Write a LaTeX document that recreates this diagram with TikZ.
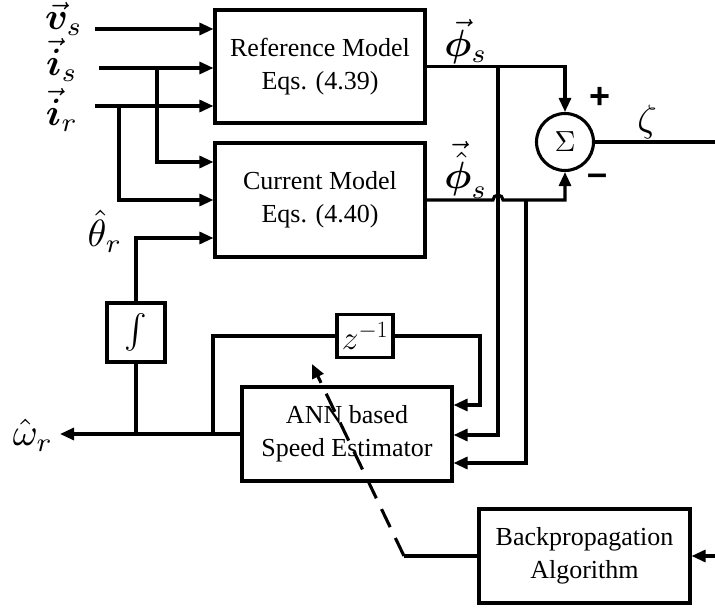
\documentclass[tikz,border=0pt]{standalone}
\usepackage{bm}
\usepackage{fontspec}
\setmainfont{Liberation Serif}
\newfontfamily\signfont{Liberation Sans}
\usetikzlibrary{arrows.meta}
\newcommand{\mysym}[2]{\scalebox{#1}{$#2$}}
\begin{document}
\begin{tikzpicture}[x=1pt,y=-1pt,line width=3.1pt,
  tip/.style={-{Triangle[length=14pt,width=12pt]}},
  blk/.style={draw,line width=3.1pt,inner sep=0pt,align=center,font=\fontsize{26}{33}\selectfont},
  lbl/.style={inner sep=0pt},
  sgn/.style={font=\signfont\bfseries\fontsize{36}{40}\selectfont,inner sep=0pt}]
\useasboundingbox (0,0) rectangle (715,609);
% blocks
\node[blk,minimum width=210pt,minimum height=113pt] (ref) at (320,66.5) {Reference Model\\Eqs. (4.39)};
\node[blk,minimum width=210pt,minimum height=114pt] (cur) at (320,200) {Current Model\\Eqs. (4.40)};
\node[blk,minimum width=210pt,minimum height=94pt] (ann) at (347,434) {ANN based\\Speed Estimator};
\node[blk,minimum width=211pt,minimum height=94pt] (bp) at (584.5,556) {Backpropagation\\Algorithm};
\node[blk,minimum width=56pt,minimum height=43pt] (z) at (365,336) {\mysym{1.35}{z^{-1}}};
\node[draw,line width=3.1pt,inner sep=0pt,minimum width=58pt,minimum height=59pt] (int) at (136,332.5) {\mysym{3.4}{\int}};
\node[draw,circle,minimum size=57pt,inner sep=0pt] (sum) at (565,142) {\mysym{2.9}{\Sigma}};
% labels
\node[lbl] (lv) at (64,19) {\mysym{3.8}{\vec{\bm{v}}_{s}}};
\node[lbl] (lis) at (62,60) {\mysym{3.8}{\vec{\bm{i}}_{s}}};
\node[lbl] (lir) at (62,110) {\mysym{3.8}{\vec{\bm{i}}_{r}}};
\node[lbl] (lphi) at (466,42) {\mysym{3.8}{\vec{\bm{\phi}}_{s}}};
\node[lbl] (lphih) at (466,170) {\mysym{3.8}{\vec{\hat{\bm{\phi}}}_{s}}};
\node[lbl] (lth) at (105,231) {\mysym{3.8}{\hat{\theta}_{r}}};
\node[lbl] (lom) at (33,435) {\mysym{3.8}{\hat{\omega}_{r}}};
\node[lbl] (lz) at (647,122) {\mysym{3.8}{\zeta}};
\node[sgn] (plus) at (600,98) {+};
\node[sgn] (minus) at (598,180) {–};
% coordinates
\coordinate (vs) at (95,29);
\coordinate (is) at (99,68);
\coordinate (ir) at (95,106);
\coordinate (bs) at (157,68);
\coordinate (br) at (119,106);
\coordinate (j1) at (157,162);
\coordinate (j2) at (119,200);
\coordinate (th) at (136,238);
\coordinate (wo) at (60,434);
\coordinate (fb1) at (213,434);
\coordinate (fb2) at (480,405);
\coordinate (v1) at (498,435);
\coordinate (v2) at (526,463);
\coordinate (h1) at (493,200);
\coordinate (out) at (715,142);
\coordinate (bin) at (715,556);
\coordinate (d1) at (404,556);
\coordinate (d2) at (312,364);
% inputs
\draw[tip] (vs) -- (ref.west |- vs);
\draw[tip] (is) -- (ref.west |- is);
\draw[tip] (ir) -- (ref.west |- ir);
\draw[tip] (bs) -- (j1) -- (cur.west |- j1);
\draw[tip] (br) -- (j2) -- (cur.west |- j2);
\draw[tip] (int.north) -- (th) -- (cur.west |- th);
% outputs
\draw[tip] (ann.west) -- (wo);
\draw (int.south) -- (int.south |- wo);
\draw (fb1) |- (z.west);
\draw[tip] (z.east) -| (fb2) -- (ann.east |- fb2);
\draw[tip] (ref.east) -| (sum.north);
\draw[tip] (v1 |- ref.east) -- (v1) -- (ann.east |- v1);
\draw[tip] (cur.east) -- (h1) arc[start angle=180,end angle=0,radius=5pt] -| (sum.south);
\draw[tip] (v2 |- cur.east) -- (v2) -- (ann.east |- v2);
\draw (sum.east) -- (out);
\draw[tip] (bin) -- (bp.east);
\draw (bp.west) -- (d1);
\draw[tip,dash pattern=on 20pt off 12pt] (d1) -- (d2);
\end{tikzpicture}
\end{document}
